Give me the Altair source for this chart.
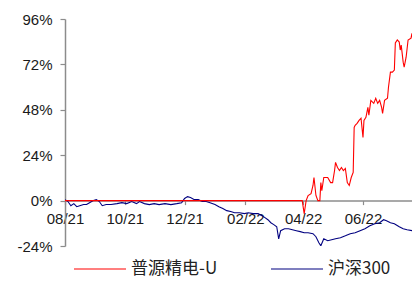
import altair as alt
import pandas as pd

# 沪深300 (cumulative return, %)
hs_dates = ["2021-08-01","2021-08-04","2021-08-07","2021-08-10","2021-08-13","2021-08-16","2021-08-20","2021-08-23","2021-08-26","2021-08-30",
            "2021-09-02","2021-09-05","2021-09-08","2021-09-12","2021-09-17","2021-09-23","2021-09-28","2021-10-03","2021-10-08","2021-10-13",
            "2021-10-16","2021-10-21","2021-10-26","2021-10-31","2021-11-05","2021-11-11","2021-11-17","2021-11-23","2021-11-28","2021-12-01",
            "2021-12-04","2021-12-07","2021-12-11","2021-12-15","2021-12-19","2021-12-23","2021-12-27","2022-01-01","2022-01-05","2022-01-09",
            "2022-01-13","2022-01-17","2022-01-21","2022-01-26","2022-01-31","2022-02-04","2022-02-09","2022-02-14","2022-02-18","2022-02-21",
            "2022-02-24","2022-02-27","2022-03-02","2022-03-05","2022-03-07","2022-03-09","2022-03-13","2022-03-17","2022-03-21","2022-03-25",
            "2022-03-29","2022-04-02","2022-04-06","2022-04-11","2022-04-14","2022-04-17","2022-04-19","2022-04-22","2022-04-26","2022-04-30",
            "2022-05-04","2022-05-09","2022-05-14","2022-05-19","2022-05-24","2022-05-29","2022-06-03","2022-06-08","2022-06-13","2022-06-18",
            "2022-06-22","2022-06-25","2022-06-29","2022-07-03","2022-07-08","2022-07-12","2022-07-16","2022-07-21","2022-07-25"]
hs_values = [0.5,-0.5,-2.7,-1.6,-3.2,-2.7,-2.1,-2.1,-1.1,0.0,
             0.5,-0.5,-2.7,-2.1,-2.1,-1.6,-1.1,-1.6,-0.5,-1.6,
             -0.5,-1.6,-2.1,-1.6,-2.1,-1.6,-2.1,-1.6,-1.1,1.1,
             2.1,1.6,0.5,0.5,-0.5,-0.5,-1.1,-2.1,-3.2,-4.2,
             -5.3,-5.8,-6.4,-6.4,-6.9,-6.4,-6.9,-6.9,-8.0,-9.0,
             -10.1,-11.7,-12.7,-13.8,-20.2,-15.9,-14.9,-14.9,-15.4,-15.9,
             -16.4,-17.0,-17.0,-17.5,-19.1,-22.3,-23.9,-20.2,-21.2,-20.7,
             -20.2,-19.6,-18.6,-17.5,-17.0,-15.9,-14.9,-13.3,-12.2,-11.7,
             -10.1,-10.6,-11.7,-12.2,-13.8,-14.9,-15.4,-15.9,-17.5]

# 普源精电-U (cumulative return, %)
py_dates = ["2021-08-01","2022-03-31","2022-04-02","2022-04-04","2022-04-06","2022-04-09","2022-04-11","2022-04-12","2022-04-14","2022-04-16",
            "2022-04-18","2022-04-19","2022-04-20","2022-04-22","2022-04-26","2022-04-29","2022-05-01","2022-05-03","2022-05-04","2022-05-06",
            "2022-05-08","2022-05-10","2022-05-12","2022-05-14","2022-05-16","2022-05-18","2022-05-20","2022-05-22","2022-05-23","2022-05-24",
            "2022-05-26","2022-05-28","2022-05-30","2022-06-01","2022-06-02","2022-06-04","2022-06-06","2022-06-07","2022-06-09","2022-06-12",
            "2022-06-14","2022-06-16","2022-06-18","2022-06-20","2022-06-21","2022-06-23","2022-06-26","2022-06-27","2022-06-29","2022-07-01",
            "2022-07-03","2022-07-04","2022-07-06","2022-07-08","2022-07-09","2022-07-10","2022-07-12","2022-07-13","2022-07-14","2022-07-15",
            "2022-07-17","2022-07-20","2022-07-21","2022-07-22","2022-07-23","2022-07-25","2022-07-26"]
py_values = [0,0,-6.9,0,2.7,3.7,8.0,12.2,2.7,0,
             0,9.5,5.3,12.2,12.2,9.5,9.5,15.9,20.2,17.5,
             15.9,17.5,15.9,17.0,9.5,8.0,12.2,14.9,38.7,39.8,
             40.8,42.4,43.5,33.4,42.4,44.0,49.3,45.1,53.0,51.4,
             54.1,51.4,53.0,49.3,46.1,53.0,54.1,59.9,67.9,67.9,
             69.0,83.3,84.9,83.8,79.6,82.2,73.2,70.5,73.2,75.8,
             84.9,85.9,88.6,83.8,85.9,92.8,93.9]

series_names = ["普源精电-U", "沪深300"]
series_colors = ["#FF0000", "#000080"]
y_ticks = [-24, 0, 24, 48, 72, 96]

df_py = pd.DataFrame({"date": py_dates, "value": py_values, "series": series_names[0]})
df_hs = pd.DataFrame({"date": hs_dates, "value": hs_values, "series": series_names[1]})

H = 227
zero_from_bottom = H * 24 / 120

x_ticks = [alt.DateTime(year=2021, month=8, date=1), alt.DateTime(year=2021, month=10, date=1),
           alt.DateTime(year=2021, month=12, date=1), alt.DateTime(year=2022, month=2, date=1),
           alt.DateTime(year=2022, month=4, date=1), alt.DateTime(year=2022, month=6, date=1)]

x_enc = alt.X("date:T",
              scale=alt.Scale(domain=[alt.DateTime(year=2021, month=8, date=1),
                                      alt.DateTime(year=2022, month=7, date=21)]),
              axis=alt.Axis(values=x_ticks, format="%m/%y", title=None, grid=False, zindex=0,
                            offset=-zero_from_bottom, domainColor="#8c8c8c", domainWidth=1.5,
                            tickColor="#8c8c8c", tickSize=4, tickWidth=1.2,
                            labelFont="Liberation Sans", labelFontSize=15, labelColor="#1a1a1a",
                            labelPadding=7, labelFlush=False, labelOverlap=False))
y_enc = alt.Y("value:Q",
              scale=alt.Scale(domain=[-24, 96], nice=False, zero=False),
              axis=alt.Axis(values=y_ticks, labelExpr="datum.value + '%'", title=None, grid=False,
                            zindex=0, domainColor="#8c8c8c", domainWidth=1.5, tickColor="#8c8c8c",
                            tickSize=5, tickWidth=1.2, labelPadding=8,
                            labelFont="Liberation Sans", labelFontSize=15, labelColor="#1a1a1a"))
c_enc = alt.Color("series:N",
                  scale=alt.Scale(domain=series_names, range=series_colors),
                  legend=alt.Legend(orient="none", legendX=8, legendY=223, direction="horizontal",
                                    title=None, symbolType="stroke", symbolSize=2704,
                                    symbolStrokeWidth=1.2, labelFont="Noto Sans CJK SC",
                                    labelFontSize=17, labelOffset=4, columnPadding=50,
                                    padding=0, labelColor="#222222"))

blue = alt.Chart(df_hs).mark_line(strokeWidth=1.1, clip=True).encode(x=x_enc, y=y_enc, color=c_enc)
red = alt.Chart(df_py).mark_line(strokeWidth=1.1, clip=True).encode(x=x_enc, y=y_enc, color=c_enc)

chart = alt.layer(blue, red).properties(
    width=347, height=H,
    autosize=alt.AutoSizeParams(type="none"),
    padding={"left": 57, "top": 11, "right": 0, "bottom": 34},
).configure_view(strokeWidth=0)

chart.save("out.html", embed_options={"renderer": "svg", "actions": False})
